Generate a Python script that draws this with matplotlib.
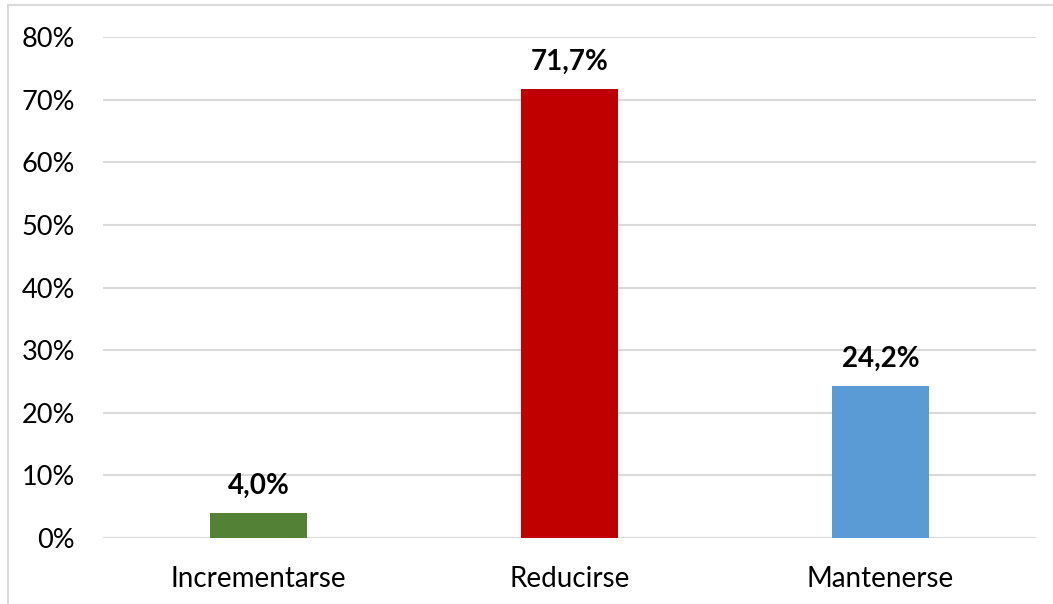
import matplotlib
matplotlib.use("Agg")
import matplotlib.pyplot as plt
from matplotlib.patches import Rectangle

# Datos
categorias = ["Incrementarse", "Reducirse", "Mantenerse"]
valores = [4.0, 71.7, 24.2]
colores = ["#538135", "#C00000", "#5B9BD5"]
etiquetas = ["4,0%", "71,7%", "24,2%"]
yticks = [0, 10, 20, 30, 40, 50, 60, 70, 80]

plt.rcParams["font.family"] = ["Lato", "DejaVu Sans"]

W, H = 1053, 604
fig = plt.figure(figsize=(W / 100, H / 100), dpi=100)
ax = fig.add_axes([103 / W, 1 - 538 / H, (1036 - 103) / W, (538 - 37) / H])

x = range(len(categorias))
bars = ax.bar(x, valores, width=0.315, color=colores, zorder=3)

for b, lab in zip(bars, etiquetas):
    ax.text(b.get_x() + b.get_width() / 2, b.get_height() + 2.3, lab,
            ha="center", va="bottom", fontsize=20, fontweight="bold", color="black")

ax.set_xlim(-0.5, 2.5)
ax.set_ylim(0, 80)
ax.set_yticks(yticks)
ax.set_yticklabels([f"{v}%" for v in yticks], fontsize=19.5)
ax.set_xticks(list(x))
ax.set_xticklabels(categorias, fontsize=20)
ax.yaxis.grid(True, color="#D9D9D9", linewidth=1.5, zorder=0)
ax.tick_params(axis="both", length=0)
ax.tick_params(axis="y", pad=20)
ax.tick_params(axis="x", pad=20)
for s in ax.spines.values():
    s.set_visible(False)

# Borde del gráfico
fig.patches.append(Rectangle((8 / W, -0.05), 1.1, 1 - 5 / H + 0.05,
                             transform=fig.transFigure, fill=False,
                             edgecolor="#D9D9D9", linewidth=1.5))

fig.savefig("out.png", dpi=100)
